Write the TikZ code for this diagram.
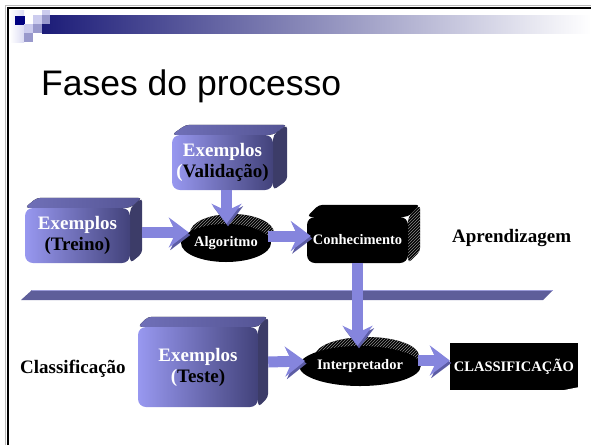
\documentclass[tikz,border=0pt]{standalone}
\usepackage{fontspec}
\setmainfont{Liberation Serif}
\newfontfamily\titlefont{Liberation Sans}
\usetikzlibrary{shapes.geometric,arrows.meta,patterns,backgrounds,calc}
\definecolor{navybar}{HTML}{1C1C78}
\definecolor{midbar}{HTML}{A4A4BE}
\definecolor{sqnavy}{HTML}{000080}
\definecolor{sqlight}{HTML}{CCCCEE}
\definecolor{sqmed}{HTML}{9999CC}
\definecolor{boxlight}{HTML}{9898F0}
\definecolor{boxdark}{HTML}{42427A}
\definecolor{toplight}{HTML}{7070B8}
\definecolor{topdark}{HTML}{545494}
\definecolor{sidecol}{HTML}{3C3C68}
\definecolor{arrowcol}{HTML}{8585DD}
\definecolor{arrowshade}{HTML}{5C5CA4}
\definecolor{barcol}{HTML}{5E5E9A}
\definecolor{baredge}{HTML}{9A9AD8}
\tikzset{
  bigfont/.style={font=\fontsize{19}{21}\selectfont\bfseries},
  smallfont/.style={font=\fontsize{14.5}{16}\selectfont\bfseries},
  gradbox/.style={rectangle, rounded corners=8pt, left color=boxlight, right color=boxdark,
    inner sep=0pt, align=center, text=black, bigfont},
  blackbox/.style={rectangle, fill=black, text=white, inner sep=0pt, smallfont},
  disk/.style={ellipse, fill=black, text=white, inner sep=0pt, smallfont},
  topface/.style={left color=toplight, right color=topdark, rounded corners=4pt},
  sideface/.style={fill=sidecol, rounded corners=4pt},
  blackface/.style={fill=black, rounded corners=4pt},
  hatchface/.style={fill=black, rounded corners=4pt, postaction={pattern=north east lines, pattern color=black!45}},
  hatch/.style={pattern=north east lines, pattern color=black!45},
  flowarrow/.style={line width=11pt, draw=arrowcol, -{Stealth[length=20pt,width=30pt,inset=7pt]},
    preaction={draw=arrowshade, transform canvas={shift={(1.5pt,-2.5pt)}}}},
  sidelabel/.style={bigfont, inner sep=0pt, anchor=base west},
}
\newcommand\drawfaces[5]{%
  \fill[#4] (#1.north west) -- ([shift={(#2,#3)}]#1.north west) -- ([shift={(#2,#3)}]#1.north east) -- (#1.north east) -- cycle;
  \fill[#5] (#1.north east) -- ([shift={(#2,#3)}]#1.north east) -- ([shift={(#2,#3)}]#1.south east) -- (#1.south east) -- cycle;}
\begin{document}
\begin{tikzpicture}[x=1pt,y=-1pt]
\useasboundingbox (0,0) rectangle (591,445);
% frame
\draw[gray!55, line width=1pt] (5,445) -- (5,5) -- (591,5);
\draw[black, line width=2.5pt] (7.8,445) -- (7.8,7.8) -- (591,7.8);
% header
\shade[left color=white, right color=sqlight!70] (10,10) rectangle (24,42);
\shade[left color=navybar, middle color=midbar, right color=white] (42,15) rectangle (591,33);
\fill[sqnavy] (15,16) rectangle (25,25);
\fill[sqlight] (33,15) rectangle (42,24);
\fill[sqlight] (42,9.5) rectangle (50,15);
\fill[sqmed] (42,15) rectangle (50,24);
\fill[sqlight] (24,24) rectangle (33,33);
\fill[sqmed] (33,24) rectangle (42,33);
\fill[sqmed] (24,33) rectangle (33,42);
% title
\node[anchor=base west, inner sep=0pt, font=\titlefont\fontsize{35.5}{40}\selectfont] (title) at (41,95) {Fases do processo};
% bar
\fill[barcol] (21,300) -- (32,290) -- (553,290) -- (543,300) -- cycle;
\draw[baredge, line width=0.8pt] (32,290.4) -- (553,290.4);
% nodes
\node[gradbox, minimum width=105pt, minimum height=55pt] (treino) at (77.5,235.5) {\textcolor{white}{Exemplos}\\(Treino)};
\node[gradbox, minimum width=101pt, minimum height=55pt] (valid) at (222.5,162.5) {\textcolor{white}{Exemplos}\\\textcolor{white}{(}Validação)};
\node[gradbox, minimum width=120pt, minimum height=80pt] (teste) at (198,367) {\textcolor{white}{Exemplos}\\\textcolor{white}{(}Teste)};
\node[blackbox, rounded corners=8pt, minimum width=101pt, minimum height=46pt] (conh) at (357.5,240) {Conhecimento};
\node[disk, minimum width=88pt, minimum height=38pt] (alg) at (226,243) {Algoritmo};
\node[disk, minimum width=106pt, minimum height=40pt] (interp) at (360,366) {Interpretador};
\node[blackbox, minimum width=128pt, minimum height=47pt] (cls) at (514,366.5) {CLASSIFICAÇÃO};
\fill[white] (cls.south east) -- ([shift={(0,-3)}]cls.south east) -- ([shift={(-15,0)}]cls.south east) -- cycle;
\node[sidelabel] (aprend) at (452,242) {Aprendizagem};
\node[sidelabel] (classif) at (20,373) {Classificação};
% 3D faces
\begin{pgfonlayer}{background}
\drawfaces{treino}{12}{-10}{topface}{sideface}
\drawfaces{valid}{14}{-10}{topface}{sideface}
\drawfaces{teste}{10}{-10}{topface}{sideface}
\drawfaces{conh}{12}{-12}{blackface}{hatchface}
\fill[black, postaction={hatch}] ([shift={(6,-10)}]alg.center) ellipse [x radius=42pt, y radius=19pt];
\fill[black, postaction={hatch}] ([shift={(7,-10)}]interp.center) ellipse [x radius=52pt, y radius=19pt];
\end{pgfonlayer}
% arrows
\draw[flowarrow] ($(treino.east)+(12,-3)$) -- ($(alg.west |- treino.east)+(8,-3)$);
\draw[flowarrow] ($(valid.south)+(4,0)$) -- ($(valid.south |- alg.north)+(4,0)$);
\draw[flowarrow] ($(alg.east |- conh.west)+(-3,-4)$) -- ($(conh.west)+(4,-4)$);
\draw[flowarrow] (conh.south) -- (conh.south |- interp.north);
\draw[flowarrow] ($(teste.east)+(10,-5)$) -- ($(interp.west)+(6,-5)$);
\draw[flowarrow] ($(interp.east |- cls.west)+(-3,-6)$) -- ($(cls.west)+(0,-6)$);
\end{tikzpicture}
\end{document}
